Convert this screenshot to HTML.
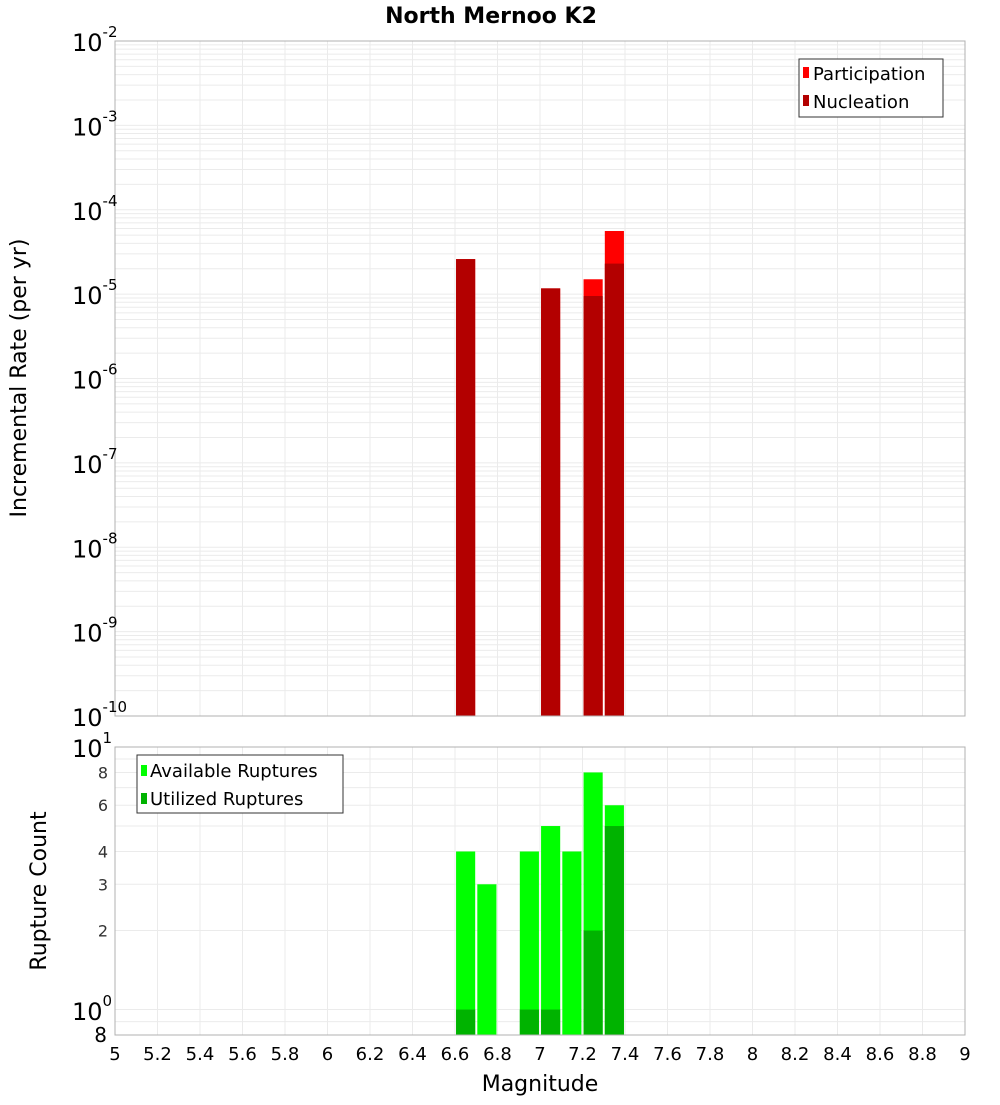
<!DOCTYPE html>
<html><head><meta charset="utf-8"><style>
body{margin:0;background:#fff;font-family:"Liberation Sans","DejaVu Sans",sans-serif}
svg text{font-family:"DejaVu Sans","Liberation Sans",sans-serif}
</style></head><body>
<svg id="c" width="1000" height="1100" xmlns="http://www.w3.org/2000/svg"></svg>
<script>
const mags=[6.65,6.75,6.95,7.05,7.15,7.25,7.35];
const participation=[2.6e-5,0,0,1.17e-5,0,1.5e-5,5.6e-5];
const nucleation=[2.6e-5,0,0,1.17e-5,0,9.5e-6,2.3e-5];
const available=[4,3,4,5,4,8,6];
const utilized=[1,0,1,1,0,2,5];
const xTicks=["5","5.2","5.4","5.6","5.8","6","6.2","6.4","6.6","6.8","7","7.2","7.4","7.6","7.8","8","8.2","8.4","8.6","8.8","9"];
const topExps=[-2,-3,-4,-5,-6,-7,-8,-9,-10];
const botTicks=[8,6,4,3,2];

const svg=document.getElementById('c');const NS='http://www.w3.org/2000/svg';
function mk(t,a,p){const e=document.createElementNS(NS,t);for(const k in a)e.setAttribute(k,a[k]);(p||svg).appendChild(e);return e;}
const X0=115,X1=965;
const x=v=>X0+(v-5)/4*(X1-X0);
const T0=41,T1=716;
const yT=v=>T0+(-2-Math.log10(v))/8*(T1-T0);
const B0=747,B1=1035;
const yB=v=>B0+(1-Math.log10(v))/(1-Math.log10(0.8))*(B1-B0);

// frames background
// top grids
for(let d=-10;d<-2;d++)for(let m=1;m<10;m++){const v=m*Math.pow(10,d);const yy=yT(v);
 const l=mk('line',{x1:X0,x2:X1,y1:yy,y2:yy,stroke:'#ebebeb','stroke-width':1});
 }
for(let i=0;i<xTicks.length;i++){const xx=x(+xTicks[i]);
 const l=mk('line',{x1:xx,x2:xx,y1:T0,y2:T1,stroke:'#ebebeb'});
 const l2=mk('line',{x1:xx,x2:xx,y1:B0,y2:B1,stroke:'#ebebeb'});}
for(let m=1;m<=10;m++){const yy=yB(m);const l=mk('line',{x1:X0,x2:X1,y1:yy,y2:yy,stroke:'#ebebeb'});}
{const yy=yB(0.9);const l=mk('line',{x1:X0,x2:X1,y1:yy,y2:yy,stroke:'#ebebeb'});}

// top bars
const hw=0.045;
mags.forEach((m,i)=>{
 if(participation[i]>0){const yy=yT(participation[i]);const r=mk('rect',{x:x(m-hw),y:yy,width:x(m+hw)-x(m-hw),height:T1-yy,fill:'#ff0000'});}
 if(nucleation[i]>0){const yy=yT(nucleation[i]);const r=mk('rect',{x:x(m-hw),y:yy,width:x(m+hw)-x(m-hw),height:T1-yy,fill:'#b30000'});}
 if(available[i]>0){const yy=yB(available[i]);const r=mk('rect',{x:x(m-hw),y:yy,width:x(m+hw)-x(m-hw),height:B1-yy,fill:'#00ff00'});}
 if(utilized[i]>0){const yy=yB(utilized[i]);const r=mk('rect',{x:x(m-hw),y:yy,width:x(m+hw)-x(m-hw),height:B1-yy,fill:'#00b300'});}
});
mk('rect',{x:X0,y:T0,width:X1-X0,height:T1-T0,fill:'none',stroke:'#b0b0b0',});
mk('rect',{x:X0,y:B0,width:X1-X0,height:B1-B0,fill:'none',stroke:'#b0b0b0',});

// top y labels
topExps.forEach(e=>{const yy=yT(Math.pow(10,e));
 const t=mk('text',{x:72,y:yy+10,'font-size':24,fill:'#000'});
 t.textContent='10';const s=mk('tspan',{dy:-14,'font-size':15},t);s.textContent=String(e);});
// bottom y labels
{const t=mk('text',{x:72,y:757,'font-size':24});t.textContent='10';const s=mk('tspan',{dy:-14,'font-size':15},t);s.textContent='1';}
{const t=mk('text',{x:72,y:1020,'font-size':24});t.textContent='10';const s=mk('tspan',{dy:-14,'font-size':15},t);s.textContent='0';}
botTicks.forEach(v=>{const t=mk('text',{x:108,y:yB(v)+6,'font-size':16,'text-anchor':'end',fill:'#333'});t.textContent=String(v);});
{const t=mk('text',{x:107,y:1042,'font-size':20,'text-anchor':'end'});t.textContent='8';}
// x labels
xTicks.forEach(s=>{const t=mk('text',{x:x(+s),y:1060,'font-size':18,'text-anchor':'middle'});t.textContent=s;});
</script>
<svg width="1000" height="1100" style="position:absolute;left:0;top:0" xmlns="http://www.w3.org/2000/svg">
<text x="491" y="23" font-size="22" font-weight="bold" text-anchor="middle" font-family="DejaVu Sans">North Mernoo K2</text>
<text x="540" y="1091" font-size="22" text-anchor="middle" font-family="DejaVu Sans">Magnitude</text>
<text transform="translate(26,378) rotate(-90)" font-size="22" text-anchor="middle" font-family="DejaVu Sans">Incremental Rate (per yr)</text>
<text transform="translate(46,891) rotate(-90)" font-size="22" text-anchor="middle" font-family="DejaVu Sans">Rupture Count</text>
<g>
<rect x="799" y="59" width="144" height="58" fill="#fff" stroke="#333"/>
<rect x="803" y="67" width="6" height="11" fill="#ff0000"/>
<text x="813" y="80" font-size="18" font-family="DejaVu Sans">Participation</text>
<rect x="803" y="95" width="6" height="11" fill="#b30000"/>
<text x="813" y="108" font-size="18" font-family="DejaVu Sans">Nucleation</text>
</g>
<g>
<rect x="137" y="755" width="206" height="58" fill="#fff" stroke="#333"/>
<rect x="141" y="765" width="6" height="11" fill="#00ff00"/>
<text x="150" y="777" font-size="18" font-family="DejaVu Sans">Available Ruptures</text>
<rect x="141" y="793" width="6" height="11" fill="#00b300"/>
<text x="150" y="805" font-size="18" font-family="DejaVu Sans">Utilized Ruptures</text>
</g>
</svg>
</body></html>
